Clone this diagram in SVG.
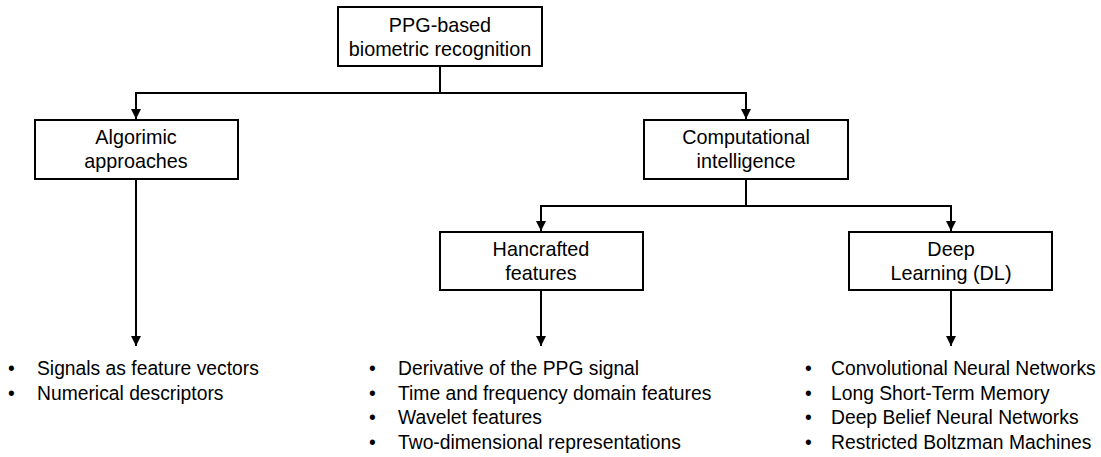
<svg xmlns="http://www.w3.org/2000/svg" width="1101" height="457" viewBox="0 0 1101 457">
<style>
.box{fill:#fff;stroke:#000;stroke-width:2}
.lbl{font-family:"Liberation Sans",Arial,sans-serif;font-size:19.8px;fill:#000;text-anchor:middle}
.item{font-family:"Liberation Sans",Arial,sans-serif;font-size:19.3px;fill:#000}
.conn{fill:none;stroke:#000;stroke-width:2}
</style>
<defs>
<marker id="arr" markerWidth="10" markerHeight="10" refX="10" refY="5" orient="auto" markerUnits="userSpaceOnUse" viewBox="0 0 10 10">
<path d="M0,0 L10,5 L0,10 Z" fill="#000"/>
</marker>
</defs>
<rect width="1101" height="457" fill="#fff"/>
<g id="connectors">
<path class="conn" d="M440,66 V93 H136 V119" marker-end="url(#arr)"/>
<path class="conn" d="M440,93 H746 V119" marker-end="url(#arr)"/>
<path class="conn" d="M746,179 V206 H541 V231" marker-end="url(#arr)"/>
<path class="conn" d="M746,206 H951 V231" marker-end="url(#arr)"/>
<path class="conn" d="M136,179 V346" marker-end="url(#arr)"/>
<path class="conn" d="M541,290 V346" marker-end="url(#arr)"/>
<path class="conn" d="M951,290 V346" marker-end="url(#arr)"/>
</g>
<g id="root">
<rect class="box" x="338" y="7" width="204" height="59"/>
<text class="lbl" x="440" y="32">PPG-based</text>
<text class="lbl" x="440" y="56">biometric recognition</text>
</g>
<g id="algorimic">
<rect class="box" x="35" y="120" width="203" height="59"/>
<text class="lbl" x="136" y="144">Algorimic</text>
<text class="lbl" x="136" y="168">approaches</text>
</g>
<g id="computational">
<rect class="box" x="644" y="120" width="204" height="59"/>
<text class="lbl" x="746" y="144">Computational</text>
<text class="lbl" x="746" y="168">intelligence</text>
</g>
<g id="handcrafted">
<rect class="box" x="440" y="232" width="203" height="58"/>
<text class="lbl" x="541" y="256">Hancrafted</text>
<text class="lbl" x="541" y="280">features</text>
</g>
<g id="deep">
<rect class="box" x="849" y="232" width="203" height="58"/>
<text class="lbl" x="951" y="256">Deep</text>
<text class="lbl" x="951" y="280">Learning (DL)</text>
</g>
<g id="list-algorimic">
<text class="item" x="8" y="375">•</text><text class="item" x="37" y="375">Signals as feature vectors</text>
<text class="item" x="8" y="400">•</text><text class="item" x="37" y="400">Numerical descriptors</text>
</g>
<g id="list-handcrafted">
<text class="item" x="369" y="375">•</text><text class="item" x="398" y="375">Derivative of the PPG signal</text>
<text class="item" x="369" y="400">•</text><text class="item" x="398" y="400">Time and frequency domain features</text>
<text class="item" x="369" y="424">•</text><text class="item" x="398" y="424">Wavelet features</text>
<text class="item" x="369" y="449">•</text><text class="item" x="398" y="449">Two-dimensional representations</text>
</g>
<g id="list-deep">
<text class="item" x="805" y="375">•</text><text class="item" x="831" y="375">Convolutional Neural Networks</text>
<text class="item" x="805" y="400">•</text><text class="item" x="831" y="400">Long Short-Term Memory</text>
<text class="item" x="805" y="424">•</text><text class="item" x="831" y="424">Deep Belief Neural Networks</text>
<text class="item" x="805" y="449">•</text><text class="item" x="831" y="449">Restricted Boltzman Machines</text>
</g>
</svg>
